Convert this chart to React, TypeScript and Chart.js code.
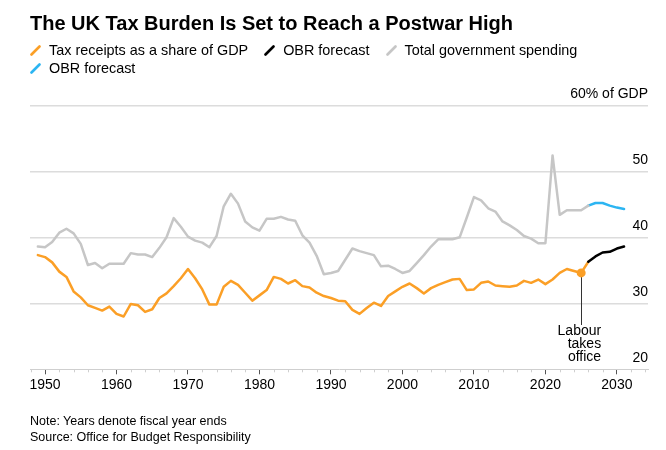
import React, { useEffect, useRef } from "react";
import { Chart, registerables } from "chart.js";

Chart.register(...registerables);

// ---------- data ----------
const actualYears = [
  1949, 1950, 1951, 1952, 1953, 1954, 1955, 1956, 1957, 1958,
  1959, 1960, 1961, 1962, 1963, 1964, 1965, 1966, 1967, 1968,
  1969, 1970, 1971, 1972, 1973, 1974, 1975, 1976, 1977, 1978,
  1979, 1980, 1981, 1982, 1983, 1984, 1985, 1986, 1987, 1988,
  1989, 1990, 1991, 1992, 1993, 1994, 1995, 1996, 1997, 1998,
  1999, 2000, 2001, 2002, 2003, 2004, 2005, 2006, 2007, 2008,
  2009, 2010, 2011, 2012, 2013, 2014, 2015, 2016, 2017, 2018,
  2019, 2020, 2021, 2022, 2023, 2024, 2025, 2026,
];

const taxReceipts = [
  37.3, 37.0, 36.2, 34.8, 34.0, 31.8, 30.9, 29.7, 29.3, 28.9,
  29.5, 28.4, 28.0, 29.9, 29.7, 28.7, 29.1, 30.8, 31.5, 32.6,
  33.8, 35.2, 33.8, 32.1, 29.8, 29.8, 32.5, 33.4, 32.8, 31.6,
  30.4, 31.2, 32.0, 34.0, 33.7, 33.0, 33.5, 32.6, 32.4, 31.6,
  31.1, 30.8, 30.4, 30.3, 29.0, 28.4, 29.3, 30.1, 29.6, 31.1,
  31.8, 32.5, 33.0, 32.3, 31.5, 32.3, 32.8, 33.2, 33.6, 33.7,
  32.0, 32.1, 33.1, 33.3, 32.7, 32.6, 32.5, 32.7, 33.4, 33.1,
  33.6, 32.9, 33.6, 34.6, 35.2, 34.9, 34.6, 36.3,
];

const totalSpending = [
  38.6, 38.5, 39.3, 40.7, 41.3, 40.6, 39.0, 35.8, 36.1, 35.3,
  36.0, 36.0, 36.0, 37.6, 37.4, 37.4, 37.0, 38.4, 40.0, 42.9,
  41.6, 40.1, 39.5, 39.2, 38.5, 40.2, 44.7, 46.6, 45.1, 42.4,
  41.5, 41.0, 42.8, 42.8, 43.1, 42.7, 42.5, 40.3, 39.2, 37.2,
  34.4, 34.6, 34.9, 36.6, 38.3, 37.9, 37.6, 37.3, 35.6, 35.7,
  35.2, 34.6, 34.9, 36.1, 37.3, 38.6, 39.7, 39.7, 39.7, 40.0,
  43.0, 46.1, 45.6, 44.4, 43.9, 42.4, 41.8, 41.1, 40.2, 39.8,
  39.1, 39.1, 52.4, 43.4, 44.1, 44.1, 44.1, 44.8,
];

const forecastYears = [2026, 2027, 2028, 2029, 2030, 2031];
const taxForecast = [36.3, 37.1, 37.7, 37.8, 38.3, 38.6];
const spendingForecast = [44.8, 45.2, 45.2, 44.8, 44.5, 44.3];

const xTickYears = [1950, 1960, 1970, 1980, 1990, 2000, 2010, 2020, 2030];
const xMinorYears = [
  1948, 1952, 1954, 1956, 1958, 1962, 1964, 1966, 1968, 1972, 1974, 1976,
  1978, 1982, 1984, 1986, 1988, 1992, 1994, 1996, 1998, 2002, 2004, 2006,
  2008, 2012, 2014, 2016, 2018, 2022, 2024, 2026, 2028, 2032, 2034,
];
const yTicks = [20, 30, 40, 50, 60];

const labourYear = 2025;
const labourLines = ["Labour", "takes", "office"];

const legendItems = [
  { label: "Tax receipts as a share of GDP", color: "#fb9f26" },
  { label: "OBR forecast", color: "#000000" },
  { label: "Total government spending", color: "#c6c6c6" },
  { label: "OBR forecast", color: "#2cb5f2" },
];

const ORANGE = "#fb9f26";
const GREY = "#c6c6c6";
const BLUE = "#2cb5f2";
const BLACK = "#000000";
const FONT = "'Liberation Sans', Arial, Helvetica, sans-serif";

const toPoints = (xs: number[], ys: number[]) => xs.map((x, i) => ({ x, y: ys[i] }));

const extrasPlugin = {
  id: "extras",
  beforeDatasetsDraw(chart: any) {
    const { ctx, scales } = chart;
    const x = scales.x;
    const y = scales.y;
    const base = chart.chartArea.bottom;
    const idx = actualYears.indexOf(labourYear);
    const mx = Math.round(x.getPixelForValue(labourYear)) + 0.5;
    const my = y.getPixelForValue(taxReceipts[idx]);
    ctx.save();
    ctx.strokeStyle = "#333";
    ctx.lineWidth = 1;
    ctx.beginPath();
    ctx.moveTo(mx, my);
    ctx.lineTo(mx, base - 44.3);
    ctx.stroke();
    ctx.restore();
  },
  afterDraw(chart: any) {
    const { ctx, scales } = chart;
    const x = scales.x;
    const base = chart.chartArea.bottom;
    ctx.save();
    ctx.strokeStyle = "#cfcfcf";
    ctx.lineWidth = 1;
    xMinorYears.forEach((yr) => {
      const px = Math.round(x.getPixelForValue(yr)) + 0.5;
      ctx.beginPath();
      ctx.moveTo(px, base);
      ctx.lineTo(px, base + 3);
      ctx.stroke();
    });
    const mx = x.getPixelForValue(labourYear);
    ctx.fillStyle = "#000";
    ctx.font = `14px ${FONT}`;
    ctx.textAlign = "right";
    ctx.textBaseline = "middle";
    labourLines.forEach((t, i) => {
      ctx.fillText(t, mx + 20, base - 38.6 + i * 13.3);
    });
    ctx.restore();
  },
};

function LegendIcon({ color }: { color: string }) {
  return (
    <svg width="11" height="11" viewBox="0 0 11 11" style={{ display: "block" }}>
      <line x1="1.5" y1="9.5" x2="9.5" y2="1.5" stroke={color} strokeWidth="2.6" strokeLinecap="round" />
    </svg>
  );
}

const lineStyle = {
  borderWidth: 2.5,
  pointRadius: 0,
  tension: 0,
  borderJoinStyle: "round",
  borderCapStyle: "round",
};

export default function App() {
  const canvasRef = useRef<HTMLCanvasElement | null>(null);

  useEffect(() => {
    document.body.style.margin = "0";
    const canvas = canvasRef.current;
    if (!canvas) return;
    const chart = new Chart(canvas, {
      type: "line",
      data: {
        datasets: [
          {
            ...lineStyle,
            label: "Total government spending",
            data: toPoints(actualYears, totalSpending),
            borderColor: GREY,
          },
          {
            ...lineStyle,
            label: "OBR forecast (spending)",
            data: toPoints(forecastYears, spendingForecast),
            borderColor: BLUE,
          },
          {
            ...lineStyle,
            label: "OBR forecast (tax)",
            data: toPoints(forecastYears, taxForecast),
            borderColor: BLACK,
          },
          {
            ...lineStyle,
            label: "Tax receipts as a share of GDP",
            data: toPoints(actualYears, taxReceipts),
            borderColor: ORANGE,
            backgroundColor: ORANGE,
            pointRadius: (c: any) => (c.raw && c.raw.x === labourYear ? 4.5 : 0),
            pointBorderWidth: 0,
            pointBackgroundColor: ORANGE,
          },
        ] as any,
      },
      options: {
        animation: false,
        responsive: false,
        maintainAspectRatio: false,
        events: [],
        layout: { padding: { left: 30, right: 18, top: 105.3, bottom: 50.7 } },
        plugins: { legend: { display: false }, tooltip: { enabled: false }, title: { display: false } },
        scales: {
          x: {
            type: "linear",
            min: 1947.9,
            max: 2034.35,
            afterBuildTicks: (s: any) => {
              s.ticks = xTickYears.map((v) => ({ value: v }));
            },
            afterFit: (s: any) => {
              s.height = 30;
            },
            ticks: {
              autoSkip: false,
              maxRotation: 0,
              padding: 2,
              color: "#000",
              font: { family: FONT, size: 14 },
              callback: (v: any) => String(v),
            },
            grid: { drawOnChartArea: false, drawTicks: true, tickLength: 5, tickColor: "#555", tickWidth: 1 },
            border: { display: true, color: "#cfcfcf", width: 1 },
          },
          y: {
            type: "linear",
            position: "right",
            min: 20,
            max: 60,
            afterBuildTicks: (s: any) => {
              s.ticks = yTicks.map((v) => ({ value: v }));
            },
            afterFit: (s: any) => {
              s.width = 0;
            },
            ticks: {
              mirror: true,
              padding: 0,
              labelOffset: -11.5,
              color: "#000",
              font: { family: FONT, size: 14 },
              callback: (v: any) => (v === 60 ? "60% of GDP" : String(v)),
            },
            grid: {
              drawTicks: false,
              lineWidth: 1.5,
              color: (c: any) => (c.tick && c.tick.value === 20 ? "rgba(0,0,0,0)" : "#dcdcdc"),
            },
            border: { display: false },
          },
        },
      } as any,
      plugins: [extrasPlugin],
    });
    return () => chart.destroy();
  }, []);

  return (
    <div style={{ position: "relative", width: 666, height: 450, background: "#fff", fontFamily: FONT, color: "#000" }}>
      <canvas ref={canvasRef} width={666} height={450} style={{ position: "absolute", left: 0, top: 0, width: 666, height: 450 }} />
      <div style={{ position: "absolute", left: 30, top: 13, fontSize: 20, fontWeight: 700, lineHeight: "20px", whiteSpace: "nowrap" }}>
        The UK Tax Burden Is Set to Reach a Postwar High
      </div>
      <div
        style={{
          position: "absolute",
          left: 30,
          top: 41,
          width: 610,
          display: "flex",
          flexWrap: "wrap",
          columnGap: 16,
          fontSize: 14.4,
          lineHeight: "18px",
        }}
      >
        {legendItems.map((it, i) => (
          <div key={i} style={{ display: "flex", alignItems: "center", gap: 8, whiteSpace: "nowrap" }}>
            <LegendIcon color={it.color} />
            <span>{it.label}</span>
          </div>
        ))}
      </div>
      <div style={{ position: "absolute", left: 30, top: 413, fontSize: 12.5, lineHeight: "16px", whiteSpace: "nowrap" }}>
        <div>Note: Years denote fiscal year ends</div>
        <div>Source: Office for Budget Responsibility</div>
      </div>
    </div>
  );
}
